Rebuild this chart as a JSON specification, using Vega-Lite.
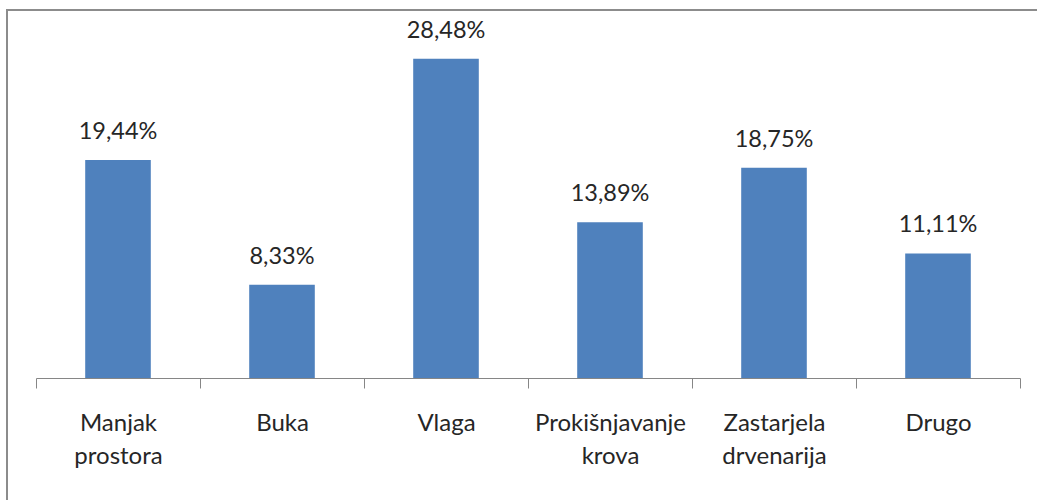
{
  "$schema": "https://vega.github.io/schema/vega-lite/v6.json",
  "width": 1033,
  "height": 493,
  "autosize": {"type": "none"},
  "padding": {"left": 7, "top": 10, "right": -3, "bottom": -3},
  "background": "white",
  "config": {
    "locale": {"number": {"decimal": ",", "thousands": ".", "grouping": [3], "currency": ["", " €"]}},
    "view": {"stroke": "#8c8c8c", "strokeWidth": 2},
    "font": "Lato"
  },
  "data": {
    "values": [
      {"kategorija": "Manjak prostora", "udio": 0.1944},
      {"kategorija": "Buka", "udio": 0.0833},
      {"kategorija": "Vlaga", "udio": 0.2848},
      {"kategorija": "Prokišnjavanje krova", "udio": 0.1389},
      {"kategorija": "Zastarjela drvenarija", "udio": 0.1875},
      {"kategorija": "Drugo", "udio": 0.1111}
    ]
  },
  "encoding": {
    "x": {
      "field": "kategorija",
      "type": "nominal",
      "sort": null,
      "scale": {"range": [29, 1013], "paddingInner": 0, "paddingOuter": 0},
      "axis": {
        "title": null,
        "orient": "bottom",
        "offset": -125,
        "labelAngle": 0,
        "tickBand": "extent",
        "tickSize": 10,
        "tickColor": "#868686",
        "domainColor": "#868686",
        "labelFont": "Lato",
        "labelFontSize": 24,
        "labelColor": "#262626",
        "labelPadding": 23,
        "labelLineHeight": 33,
        "labelExpr": "split(datum.label, ' ')",
        "grid": false
      }
    },
    "y": {
      "field": "udio",
      "type": "quantitative",
      "scale": {"domain": [0, 0.3283], "range": [368, 0], "nice": false},
      "axis": null
    }
  },
  "layer": [
    {"mark": {"type": "bar", "color": "#4F81BD", "width": {"band": 0.4}}},
    {
      "mark": {"type": "text", "font": "Lato", "fontSize": 23.5, "color": "#262626", "baseline": "alphabetic", "dy": -21},
      "encoding": {"text": {"field": "udio", "type": "quantitative", "format": ".2%"}}
    }
  ]
}
